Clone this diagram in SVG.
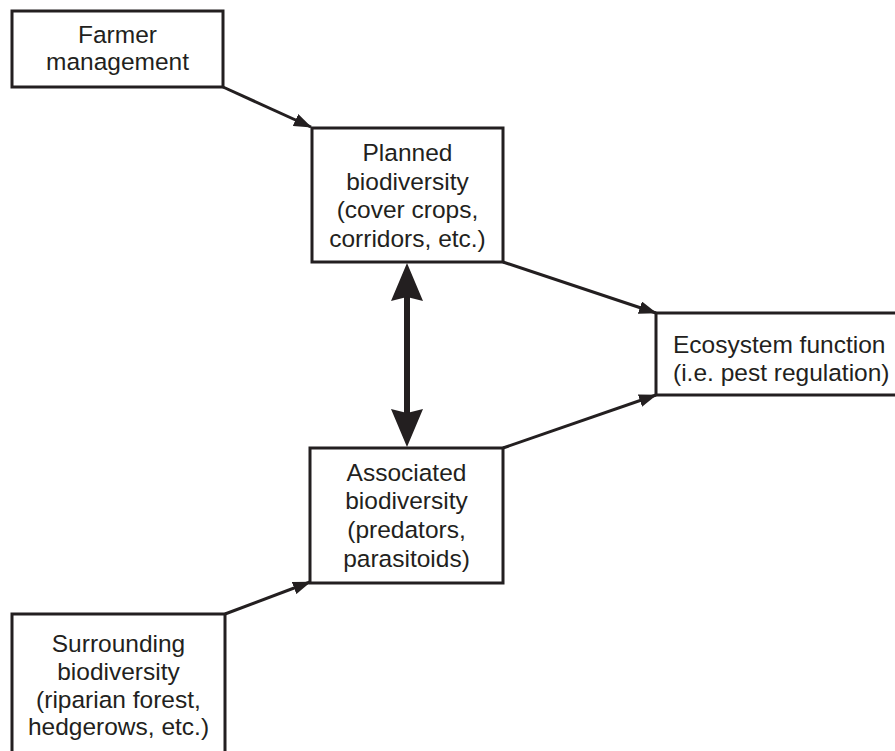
<svg xmlns="http://www.w3.org/2000/svg" width="895" height="751" viewBox="0 0 895 751">
  <style>
    .box { fill: #ffffff; stroke: #231f20; stroke-width: 3; }
    .lbl { font-family: "Liberation Sans", Arial, sans-serif; font-size: 24.5px; fill: #231f20; text-anchor: middle; }
    .conn { stroke: #231f20; stroke-width: 3; fill: none; }
    .thick { stroke: #231f20; stroke-width: 6; fill: none; }
  </style>
  <defs>
    <marker id="arr" viewBox="0 0 18 13" markerUnits="userSpaceOnUse" markerWidth="18" markerHeight="13" refX="17" refY="6.5" orient="auto">
      <path d="M0,0 L18,6.5 L0,13 z" fill="#231f20"/>
    </marker>
    <marker id="big" viewBox="0 0 38 32" markerUnits="userSpaceOnUse" markerWidth="38" markerHeight="32" refX="4" refY="16" orient="auto-start-reverse">
      <path d="M38,16 L0,0 L4,16 L0,32 z" fill="#231f20"/>
    </marker>
  </defs>
  <rect width="895" height="751" fill="#ffffff"/>

  <g id="connectors">
    <line class="conn" x1="223" y1="87" x2="311" y2="127" marker-end="url(#arr)"/>
    <line class="conn" x1="503" y1="262" x2="656" y2="313" marker-end="url(#arr)"/>
    <line class="conn" x1="503" y1="448" x2="656" y2="395" marker-end="url(#arr)"/>
    <line class="conn" x1="225" y1="614" x2="310" y2="582" marker-end="url(#arr)"/>
    <line class="thick" x1="407" y1="297" x2="407" y2="413" marker-start="url(#big)" marker-end="url(#big)"/>
  </g>

  <g id="farmer">
    <rect class="box" x="12" y="11" width="211" height="76"/>
    <text class="lbl" x="117.5" y="43">Farmer</text>
    <text class="lbl" x="117.5" y="70">management</text>
  </g>

  <g id="planned">
    <rect class="box" x="312" y="128" width="191" height="134"/>
    <text class="lbl" x="407.5" y="161">Planned</text>
    <text class="lbl" x="407.5" y="190">biodiversity</text>
    <text class="lbl" x="407.5" y="218">(cover crops,</text>
    <text class="lbl" x="407.5" y="247">corridors, etc.)</text>
  </g>

  <g id="ecosystem">
    <rect class="box" x="656" y="313" width="260" height="82"/>
    <text class="lbl" x="673" y="353" style="text-anchor:start">Ecosystem function</text>
    <text class="lbl" x="673" y="381" style="text-anchor:start">(i.e. pest regulation)</text>
  </g>

  <g id="associated">
    <rect class="box" x="310" y="448" width="193" height="135"/>
    <text class="lbl" x="406.5" y="481">Associated</text>
    <text class="lbl" x="406.5" y="509">biodiversity</text>
    <text class="lbl" x="406.5" y="538">(predators,</text>
    <text class="lbl" x="406.5" y="567">parasitoids)</text>
  </g>

  <g id="surrounding">
    <rect class="box" x="12" y="614" width="213" height="160"/>
    <text class="lbl" x="118.5" y="652">Surrounding</text>
    <text class="lbl" x="118.5" y="680">biodiversity</text>
    <text class="lbl" x="118.5" y="708">(riparian forest,</text>
    <text class="lbl" x="118.5" y="735">hedgerows, etc.)</text>
  </g>
</svg>
